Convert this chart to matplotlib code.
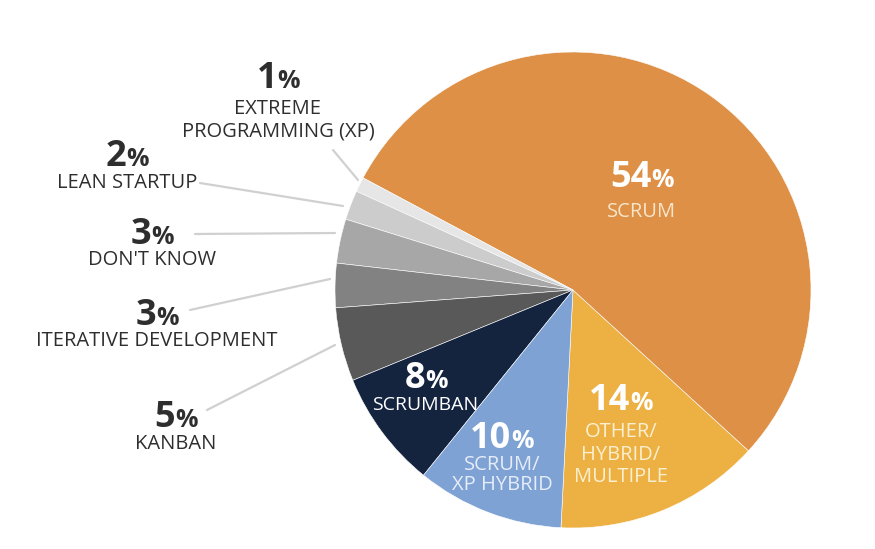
import matplotlib
matplotlib.use("Agg")
import matplotlib.pyplot as plt

# ---- data ----
categories = ["OTHER/\nHYBRID/\nMULTIPLE", "SCRUM", "EXTREME\nPROGRAMMING (XP)", "LEAN STARTUP",
              "DON'T KNOW", "ITERATIVE DEVELOPMENT", "KANBAN", "SCRUMBAN", "SCRUM/\nXP HYBRID"]
values = [14, 54, 1, 2, 3, 3, 5, 8, 10]
colors = ["#EDB143", "#DD9046", "#E6E6E6", "#CCCCCC", "#A7A7A7", "#828282", "#595959",
          "#14243F", "#7FA2D4"]

plt.rcParams['font.family'] = ['Open Sans', 'DejaVu Sans']

W, H = 875, 549
fig = plt.figure(figsize=(W / 100, H / 100), dpi=100)
ax = fig.add_axes([0, 0, 1, 1])

cx, cy, r = 573, H - 290, 238
ax.pie(values, colors=colors, startangle=267.1, counterclock=True,
       center=(cx, cy), radius=r, frame=True,
       wedgeprops=dict(linewidth=0.4, edgecolor='#FFFFFF'))
ax.set_xlim(0, W)
ax.set_ylim(0, H)
ax.set_aspect('equal')
ax.axis('off')

fig.canvas.draw()
renderer = fig.canvas.get_renderer()


def pct_label(x, y, num, color, size_num=26, size_pct=18):
    y = H - y
    t1 = ax.text(x, y, num, fontsize=size_num, fontweight='bold', color=color,
                 ha='left', va='baseline')
    t2 = ax.text(x, y, "%", fontsize=size_pct, fontweight='bold', color=color,
                 ha='left', va='baseline')
    w1 = t1.get_window_extent(renderer).width
    w2 = t2.get_window_extent(renderer).width
    total = w1 + w2
    x0 = x - total / 2
    t1.set_x(x0)
    t2.set_x(x0 + w1)


def sub_label(x, y, text, color, size=14.5, spacing=1.2):
    ax.text(x, H - y, text, fontsize=size, color=color, ha='center', va='top',
            linespacing=spacing)


dark = "#2E2E2E"
line_c = "#D0D0D0"

# x, baseline of number, index, top of label
outside = [
    (278, 88, 2, 99),
    (127, 166, 3, 173),
    (152, 244, 4, 250),
    (157, 325, 5, 331),
    (176, 427, 6, 434),
]
for x, yn, idx, yl in outside:
    pct_label(x, yn, str(values[idx]), dark)
    sub_label(x, yl, categories[idx], dark, spacing=1.2)

leaders = [((333, 150), (358, 180)),
           ((200, 183), (343, 206)),
           ((195, 234), (335, 233)),
           ((190, 310), (330, 279)),
           ((207, 410), (335, 345))]
for (x1, y1), (x2, y2) in leaders:
    ax.plot([x1, x2], [H - y1, H - y2], color=line_c, lw=1.6, solid_capstyle='round')

pct_label(642, 187, str(values[1]), "white")
sub_label(642, 202, categories[1], "#F8E6CC")

pct_label(621, 410, str(values[0]), "white")
sub_label(621, 422, categories[0], "#FBEFD2", spacing=1.17)

pct_label(502, 448, str(values[8]), "white")
sub_label(502, 455, categories[8], "#E6EDF8", spacing=1.0)

pct_label(426, 388, str(values[7]), "white")
sub_label(425, 396, categories[7], "white", size=14)

fig.savefig("out.png", dpi=100, facecolor='white')
